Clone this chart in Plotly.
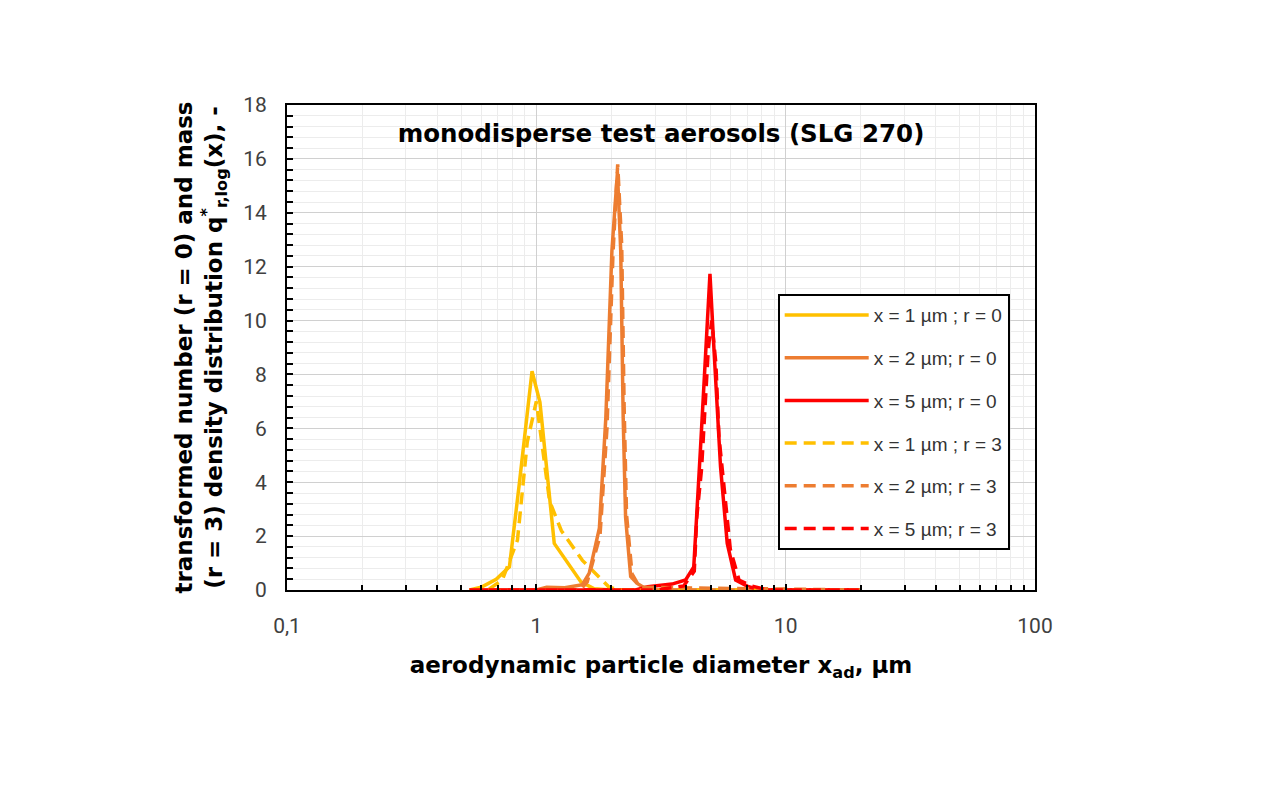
import plotly.graph_objects as go

# --- Daten ---
x1_r0 = [0.54, 0.6, 0.69, 0.78, 0.855, 0.961, 1.034, 1.18, 1.51, 1.7, 2.0, 20]
y1_r0 = [0, 0.1, 0.4, 0.86, 3.96, 8.12, 6.97, 1.73, 0.3, 0.05, 0, 0]

x2_r0 = [0.54, 1.0, 1.1, 1.3, 1.53, 1.63, 1.79, 1.9, 2.01, 2.115, 2.18, 2.23, 2.28, 2.39, 2.53, 2.8, 20]
y2_r0 = [0, 0, 0.1, 0.08, 0.2, 0.63, 2.3, 6.4, 12.6, 15.5, 12.6, 6.4, 2.7, 0.5, 0.25, 0, 0]

x5_r0 = [0.54, 2.5, 2.8, 3.5, 3.97, 4.28, 4.55, 4.84, 4.97, 5.16, 5.48, 5.83, 6.3, 7.1, 8.0, 20]
y5_r0 = [0, 0, 0.12, 0.22, 0.37, 0.86, 5.2, 9.5, 11.73, 8.9, 4.57, 1.73, 0.37, 0.12, 0, 0]

x1_r3 = [0.54, 0.65, 0.73, 0.84, 0.92, 1.0, 1.13, 1.26, 1.53, 1.96, 2.2, 20]
y1_r3 = [0, 0.05, 0.37, 1.85, 5.5, 7.0, 3.3, 2.2, 1.1, 0.1, 0, 0]

x2_r3 = [0.54, 1.5, 1.6, 1.8, 1.92, 2.03, 2.12, 2.2, 2.25, 2.3, 2.42, 2.6, 20]
y2_r3 = [0, 0, 0.3, 2.0, 6.0, 12.5, 15.8, 12.8, 6.8, 2.8, 0.6, 0.1, 0]

x5_r3 = [0.54, 3.0, 3.9, 4.3, 4.4, 4.6, 4.9, 5.05, 5.25, 5.4, 6.0, 6.5, 7.3, 8.5, 20]
y5_r3 = [0, 0, 0.15, 0.7, 2.7, 4.5, 9.0, 10.0, 8.4, 5.7, 1.5, 0.37, 0.15, 0, 0]

labels = ["x = 1 µm ; r = 0", "x = 2 µm; r = 0", "x = 5 µm; r = 0",
          "x = 1 µm ; r = 3", "x = 2 µm; r = 3", "x = 5 µm; r = 3"]

x_tickvals = [0.1, 1, 10, 100]
x_ticktext = ["0,1", "1", "10", "100"]
y_tickvals = [0, 2, 4, 6, 8, 10, 12, 14, 16, 18]

GELB = "#FFC000"
ORANGE = "#ED7D31"
ROT = "#FF0000"
STRICH = "12px,7px"

serien = [
    (x1_r0, y1_r0, GELB, "solid"),
    (x2_r0, y2_r0, ORANGE, "solid"),
    (x5_r0, y5_r0, ROT, "solid"),
    (x1_r3, y1_r3, GELB, STRICH),
    (x2_r3, y2_r3, ORANGE, STRICH),
    (x5_r3, y5_r3, ROT, STRICH),
]

fig = go.Figure()
for i, (xs, ys, farbe, stil) in enumerate(serien):
    fig.add_trace(go.Scatter(
        x=xs, y=ys, mode="lines", name=labels[i],
        legendgroup=f"g{i}",
        line=dict(color=farbe, width=3.5, dash=stil),
    ))

tick_font = dict(family="Roboto", size=21, color="#404040")
bold_font = dict(family="DejaVu Sans", size=23, color="#000000")

# Seite hat 8px Rand -> Plotfläche 287..1035 x 105..590
fig.update_layout(
    width=1280, height=792,
    paper_bgcolor="white", plot_bgcolor="white",
    margin=dict(l=279, r=253, t=97, b=210),
    title=dict(
        text="<b>monodisperse test aerosols (SLG 270)</b>",
        x=0.5, xref="paper", y=1 - 125 / 792, yref="container",
        xanchor="center", yanchor="middle",
        font=dict(family="DejaVu Sans", size=24.5, color="#000000"),
    ),
    legend=dict(
        x=0.656, y=0.61, xanchor="left", yanchor="top",
        bgcolor="white", bordercolor="#000000", borderwidth=2,
        font=dict(family="Liberation Sans", size=19, color="#333333"),
        tracegroupgap=15, itemwidth=84,
    ),
    showlegend=True,
)

fig.update_xaxes(
    type="log", range=[-1, 2],
    tickvals=x_tickvals, ticktext=x_ticktext,
    tickfont=tick_font, ticks="inside", ticklen=6, tickwidth=2, tickcolor="#000000",
    ticklabelstandoff=16,
    showline=True, linecolor="#000000", linewidth=2, mirror=True,
    showgrid=True, gridcolor="#d0d0d0", gridwidth=1,
    minor=dict(dtick="D1", ticks="inside", ticklen=5, tickwidth=2, tickcolor="#000000",
               showgrid=True, gridcolor="#ececec"),
    zeroline=False,
    title=dict(text="<b>aerodynamic particle diameter x<sub>ad</sub>, µm</b>",
               font=bold_font, standoff=20),
)

fig.update_yaxes(
    range=[0, 18], tickvals=y_tickvals,
    tickfont=tick_font, ticks="inside", ticklen=6, tickwidth=2, tickcolor="#000000",
    ticklabelstandoff=14,
    showline=True, linecolor="#000000", linewidth=2, mirror=True,
    showgrid=True, gridcolor="#d0d0d0", gridwidth=1,
    minor=dict(dtick=0.4, tick0=0, ticks="inside", ticklen=6, tickwidth=2, tickcolor="#000000",
               showgrid=True, gridcolor="#ececec"),
    zeroline=False,
    title=dict(text="<b>transformed number (r = 0) and mass<br>"
                    "(r = 3) density distribution q<sup>*</sup><sub>r,log</sub>(x), -</b>",
               font=bold_font, standoff=14),
)

fig.write_html("out.html")
